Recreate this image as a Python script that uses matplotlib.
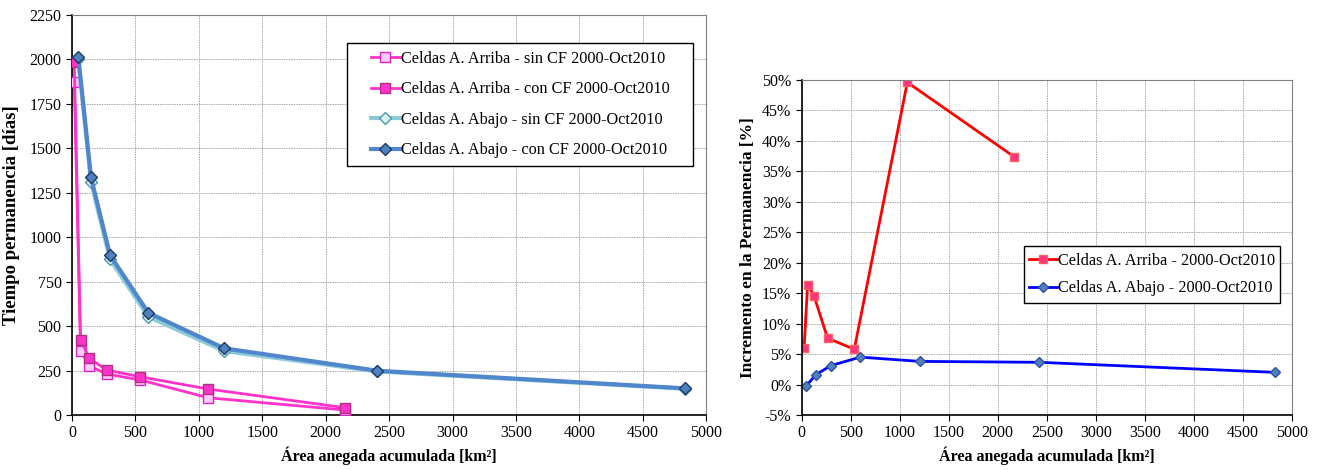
import matplotlib
matplotlib.use('Agg')
import matplotlib.pyplot as plt
from matplotlib.patches import Rectangle
from matplotlib.ticker import FuncFormatter

plt.rcParams['font.family'] = ['Liberation Serif', 'DejaVu Serif']

# left chart: residence time vs accumulated drained area
area_arriba = [18, 68, 137, 273, 539, 1075, 2153]
arriba_sin = [1875, 362, 276, 231, 197, 97, 28]
arriba_con = [1987, 422, 319, 253, 215, 146, 41]

area_abajo = [50, 150, 300, 602, 1201, 2408, 4830]
abajo_sin = [2000, 1312, 876, 553, 360, 245, 148]
abajo_con = [2015, 1337, 900, 575, 375, 249, 150]

# right chart: increase in residence (%)
inc_area_arriba = [25, 61, 125, 265, 537, 1078, 2166]
inc_arriba = [5.95, 16.4, 14.6, 7.6, 5.8, 49.6, 37.4]
inc_area_abajo = [41, 146, 296, 598, 1207, 2424, 4830]
inc_abajo = [-0.3, 1.6, 3.1, 4.5, 3.8, 3.65, 2.0]

labels_left = ['Celdas A. Arriba - sin CF 2000-Oct2010',
               'Celdas A. Arriba - con CF 2000-Oct2010',
               'Celdas A. Abajo - sin CF 2000-Oct2010',
               'Celdas A. Abajo - con CF 2000-Oct2010']
labels_right = ['Celdas A. Arriba - 2000-Oct2010',
                'Celdas A. Abajo - 2000-Oct2010']

fig = plt.figure(figsize=(13.25, 4.7), dpi=100)
ax1 = fig.add_axes([0.0543, 0.117, 0.4787, 0.851])
ax2 = fig.add_axes([0.605, 0.117, 0.370, 0.713])


def style_ax(ax):
    ax.grid(True, color='#A8A8A8', linestyle=(0, (1.5, 1)), linewidth=0.7)
    ax.set_axisbelow(True)
    for s in ['top', 'right']:
        ax.spines[s].set_color('#808080')
    for s in ['left', 'bottom']:
        ax.spines[s].set_color('black')
        ax.spines[s].set_linewidth(1.2)
    ax.tick_params(direction='out', length=4, labelsize=11.5)


def boxed_legend(ax, x0, y0, x1, y1, **kw):
    # legend frame drawn by hand so the padding can be wider than tall
    ax.add_patch(Rectangle((x0, y0), x1 - x0, y1 - y0, transform=ax.transAxes,
                           facecolor='white', edgecolor='black', lw=1.0,
                           zorder=5, clip_on=False))
    leg = ax.legend(loc='center', bbox_to_anchor=((x0 + x1) / 2, (y0 + y1) / 2),
                    frameon=False, borderaxespad=0, borderpad=0, **kw)
    leg.set_zorder(6)
    return leg


ax1.plot(area_arriba, arriba_sin, color='#FF33CC', lw=2, marker='s', ms=6.5,
         mfc='#FFCCFF', mec='#E020C0', label=labels_left[0], zorder=3)
ax1.plot(area_arriba, arriba_con, color='#FF33CC', lw=2, marker='s', ms=6.5,
         mfc='#FF33CC', mec='#B0307F', label=labels_left[1], zorder=4)
ax1.plot(area_abajo, abajo_sin, color='#8CCAD8', lw=3, marker='D', ms=6,
         mfc='#D8F0F4', mec='#4A9AAA', label=labels_left[2], zorder=3)
ax1.plot(area_abajo, abajo_con, color='#4F86CC', lw=3, marker='D', ms=6.5,
         mfc='#4F81BD', mec='#1F3864', label=labels_left[3], zorder=4)

ax1.set_xlim(0, 5000)
ax1.set_ylim(0, 2250)
ax1.set_xticks(range(0, 5001, 500))
ax1.set_yticks(range(0, 2251, 250))
style_ax(ax1)
ax1.set_xlabel('Área anegada acumulada [km²]', fontweight='bold', fontsize=11.5)
ax1.set_ylabel('Tiempo permanencia [días]', fontweight='bold', fontsize=13.5,
               labelpad=7)
boxed_legend(ax1, 0.4338, 0.6225, 0.9795, 0.93, fontsize=11.7,
             handlelength=1.8, handletextpad=0.05, labelspacing=0.9)

ax2.plot(inc_area_arriba, inc_arriba, color='#FF0000', lw=2, marker='s', ms=5.5,
         mfc='#FF3380', mec='#FF6060', label=labels_right[0])
ax2.plot(inc_area_abajo, inc_abajo, color='#0000FF', lw=2, marker='D', ms=5,
         mfc='#4F81BD', mec='#3050A0', label=labels_right[1])
ax2.set_xlim(0, 5000)
ax2.set_ylim(-5, 50)
ax2.set_xticks(range(0, 5001, 500))
ax2.set_yticks(range(-5, 51, 5))
ax2.yaxis.set_major_formatter(FuncFormatter(lambda v, p: f'{v:.0f}%'))
style_ax(ax2)
ax2.set_xlabel('Área anegada acumulada [km²]', fontweight='bold', fontsize=11.5)
ax2.set_ylabel('Incremento en la Permanencia [%]', fontweight='bold', fontsize=12.5)
boxed_legend(ax2, 0.454, 0.3334, 0.9755, 0.5054, fontsize=11.7,
             handlelength=1.7, handletextpad=0.05, labelspacing=0.72)

fig.savefig('out.png', dpi=100)
